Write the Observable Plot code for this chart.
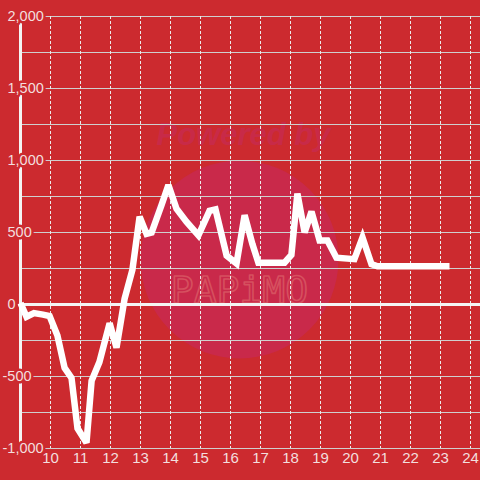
<!DOCTYPE html>
<html>
<head>
<meta charset="utf-8">
<script src="https://cdn.jsdelivr.net/npm/d3@7"></script>
<script src="https://cdn.jsdelivr.net/npm/@observablehq/plot@0.6"></script>
<style>
  html, body { margin: 0; padding: 0; background: #cc2a2f; }
  #chart svg { display: block; }
</style>
</head>
<body>
<div id="chart"></div>
<script>
// Data
const hours = [9.0, 9.2, 9.45, 9.75, 9.97, 10.23, 10.47, 10.7, 10.9, 11.2, 11.37, 11.63, 11.97, 12.2, 12.47, 12.73,
  12.97, 13.2, 13.37, 13.7, 13.93, 14.2, 14.53, 14.93, 15.3, 15.5, 15.87, 16.2, 16.47, 16.73, 16.93, 17.8,
  18.03, 18.23, 18.47, 18.7, 18.97, 19.23, 19.53, 20.13, 20.4, 20.7, 20.9, 23.3];
const values = [10, -85, -60, -70, -80, -215, -440, -510, -860, -960, -530, -400, -130, -300, 40, 240,
  610, 490, 500, 690, 830, 665, 575, 480, 650, 660, 340, 285, 620, 420, 290, 290,
  345, 770, 500, 645, 445, 445, 325, 315, 465, 280, 265, 265];
const xTicks = [10, 11, 12, 13, 14, 15, 16, 17, 18, 19, 20, 21, 22, 23, 24];
const yLabels = [-1000, -500, 0, 500, 1000, 1500, 2000];
const yGrid = [-1000, -750, -500, -250, 250, 500, 750, 1000, 1250, 1500, 1750, 2000];
const xDomain = [9, 24.333];
const yDomain = [-1000, 2000];

const data = hours.map((h, i) => ({h, v: values[i]}));
const fmt = d3.format(",");
const bg = "#cc2a2f";
const labelColor = "#f3dede";
const font = "'Liberation Sans', Arial, sans-serif";

const chart = Plot.plot({
  width: 480,
  height: 480,
  marginLeft: 20,
  marginRight: 0,
  marginTop: 16,
  marginBottom: 32,
  style: {background: bg, fontFamily: font, overflow: "visible"},
  x: {domain: xDomain, axis: null},
  y: {domain: yDomain, axis: null},
  marks: [
    // watermark
    Plot.dot([0], {frameAnchor: "middle", r: 99, dx: -11, dy: 27, fill: "#c9294a", stroke: "none"}),
    Plot.text(["Powered by"], {frameAnchor: "middle", dx: -7, dy: -97, fill: "#c82a48", fontSize: 31,
      fontWeight: "bold", fontStyle: "italic", fontFamily: "'Liberation Sans', Arial, sans-serif"}),
    Plot.text(["PAPiMO"], {frameAnchor: "middle", dx: -11, dy: 58, fill: "none", stroke: "#d6505f",
      strokeWidth: 1.6, fontSize: 38, fontFamily: "'DejaVu Sans Mono', monospace"}),
    // grid
    Plot.ruleY(yGrid, {stroke: "#cfcfcf", strokeWidth: 1}),
    Plot.ruleX(xTicks, {stroke: "#ececec", strokeWidth: 1, strokeDasharray: "3,2"}),
    // axis lines
    Plot.ruleX([xDomain[0]], {stroke: "#f4f4f4", strokeWidth: 3}),
    Plot.ruleY([0], {stroke: "#f4f4f4", strokeWidth: 3}),
    // data line
    Plot.line(data, {x: "h", y: "v", stroke: "white", strokeWidth: 6.5, strokeLinejoin: "miter",
      strokeMiterlimit: 3, strokeLinecap: "butt"}),
    // y labels (with background halo)
    Plot.text(yLabels.filter(d => d >= 0), {y: d => d, text: d => fmt(d), frameAnchor: "left", dx: -13,
      textAnchor: "start", fill: labelColor, stroke: bg, strokeWidth: 5, paintOrder: "stroke", fontSize: 14.5}),
    Plot.text(yLabels.filter(d => d < 0), {y: d => d, text: d => fmt(d).replace("−", "-"), frameAnchor: "left", dx: -18,
      textAnchor: "start", fill: labelColor, stroke: bg, strokeWidth: 5, paintOrder: "stroke", fontSize: 14.5}),
    // x labels
    Plot.text(xTicks, {x: d => d, text: d => String(d), frameAnchor: "bottom", dy: 14,
      fill: labelColor, fontSize: 15})
  ]
});
document.getElementById("chart").appendChild(chart);
</script>
</body>
</html>
